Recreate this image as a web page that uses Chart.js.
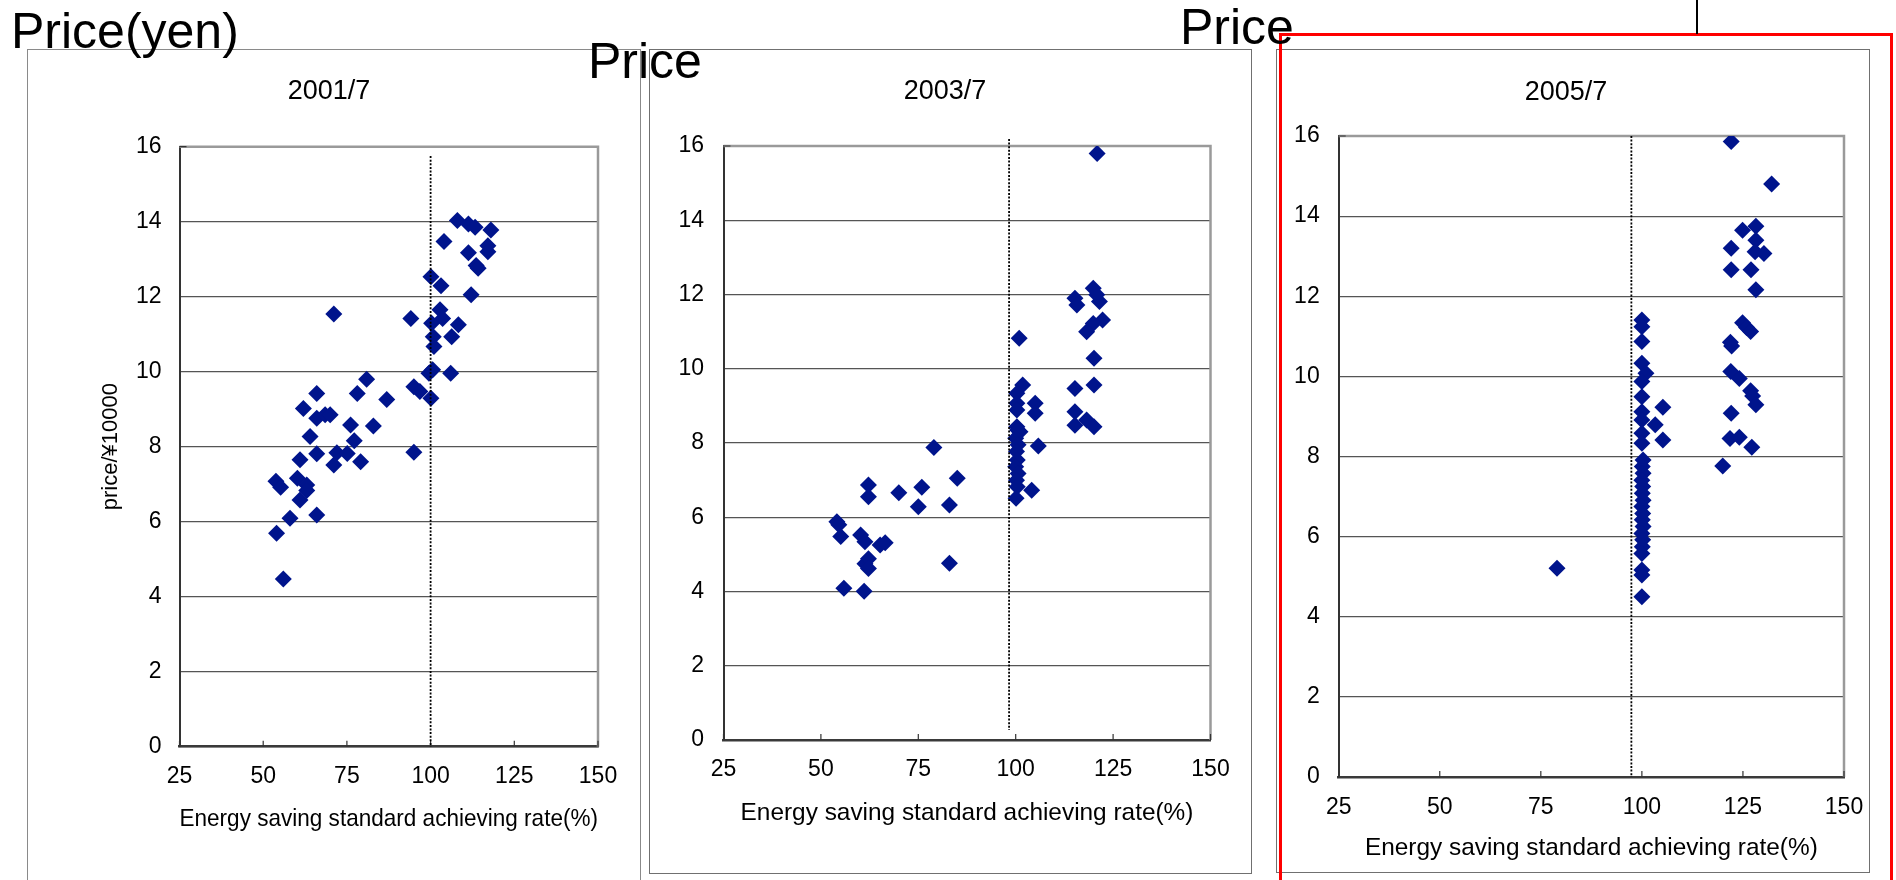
<!DOCTYPE html>
<html>
<head>
<meta charset="utf-8">
<title>Price vs energy saving standard achieving rate</title>
<script src="https://cdn.jsdelivr.net/npm/chart.js@4.4.1/dist/chart.umd.min.js"></script>
<style>
  body { margin: 0; width: 1896px; height: 880px; overflow: hidden; background: #fff; position: relative;
         font-family: "Liberation Sans", Arial, sans-serif; }
  canvas { position: absolute; }
  .box { position: absolute; border: 1.5px solid #8a8a8a; box-sizing: border-box; }
  .big { position: absolute; font-size: 50px; line-height: 50px; color: #000; white-space: nowrap; }
</style>
</head>
<body>
<div class="box" style="left:27px;top:49px;width:614px;height:900px;"></div>
<div class="box" style="left:649px;top:49px;width:603px;height:825px;border-color:#707070;"></div>
<div class="box" style="left:1276px;top:49px;width:594px;height:824px;border-color:#707070;"></div>
<div style="position:absolute;left:1279px;top:33px;width:614px;height:900px;border:3px solid #f00;box-sizing:border-box;"></div>
<div style="position:absolute;left:1696px;top:0;width:1.5px;height:34px;background:#000;"></div>

<canvas id="c2001" width="613" height="831" style="left:27px;top:49px;"></canvas>
<canvas id="c2003" width="602" height="824" style="left:649px;top:49px;"></canvas>
<canvas id="c2005" width="620" height="823" style="left:1276px;top:49px;"></canvas>

<div class="big" style="left:11px;top:6px;">Price(yen)</div>
<div class="big" style="left:588px;top:36px;">Price</div>
<div class="big" style="left:1180px;top:2px;">Price</div>

<script>
// 2001/7
var rate2001 = [108.0, 111.3, 113.3, 118.0, 104.0, 117.1, 117.1, 111.3, 113.6, 114.2,
                100.1, 103.1, 112.1, 71.1, 94.1, 102.8, 103.6, 100.3, 108.3, 106.3,
                100.8, 101.0, 100.6, 106.0, 99.5, 80.9, 66.0, 78.1, 95.0, 96.8,
                100.1, 86.9, 62.0, 66.0, 68.5, 70.0, 76.1, 82.9, 64.0, 77.2,
                66.0, 72.0, 75.1, 95.0, 61.0, 79.1, 71.1, 53.8, 55.2, 60.2,
                63.0, 63.0, 61.0, 66.0, 58.0, 54.0, 56.0];
var price2001 = [14.03, 13.94, 13.85, 13.78, 13.47, 13.36, 13.20, 13.17, 12.83, 12.76,
                 12.53, 12.29, 12.05, 11.54, 11.42, 11.65, 11.42, 11.29, 11.25, 10.93,
                 10.93, 10.67, 10.05, 9.96, 9.96, 9.80, 9.42, 9.42, 9.60, 9.47,
                 9.29, 9.26, 9.02, 8.76, 8.85, 8.85, 8.58, 8.55, 8.27, 8.16,
                 7.81, 7.84, 7.82, 7.85, 7.65, 7.60, 7.51, 7.08, 6.92, 7.16,
                 6.98, 6.83, 6.58, 6.18, 6.09, 5.69, 4.47];

// 2003/7
var rate2003 = [120.9, 119.9, 115.2, 115.7, 121.5, 120.8, 122.3, 119.9, 118.2, 100.9,
                120.1, 101.8, 100.3, 115.2, 120.1, 100.3, 105.0, 105.0, 100.3, 115.2,
                118.2, 115.2, 120.1, 100.3, 101.1, 105.8, 79.0, 100.5, 100.0, 100.6,
                100.2, 100.4, 100.0, 100.6, 100.2, 100.4, 100.1, 104.1, 85.0, 62.2,
                62.2, 70.0, 75.9, 75.0, 83.0, 54.1, 54.6, 55.1, 60.2, 61.3,
                65.2, 66.5, 61.3, 62.2, 62.2, 83.0, 55.9, 61.1];
var price2003 = [15.80, 12.17, 11.90, 11.72, 11.81, 11.99, 11.31, 11.22, 11.00, 10.82,
                 10.28, 9.56, 9.34, 9.47, 9.56, 9.07, 9.07, 8.80, 8.89, 8.84,
                 8.62, 8.48, 8.44, 8.44, 8.30, 7.92, 7.88, 8.35, 8.13, 7.95,
                 7.77, 7.54, 7.36, 7.18, 7.00, 6.82, 6.51, 6.73, 7.05, 6.87,
                 6.55, 6.66, 6.81, 6.28, 6.33, 5.88, 5.80, 5.48, 5.52, 5.34,
                 5.25, 5.31, 4.75, 4.88, 4.62, 4.76, 4.09, 4.01];

// 2005/7
var rate2005 = [122.1, 132.1, 128.2, 124.9, 128.2, 128.0, 130.2, 122.1, 122.1, 127.0,
                128.2, 124.9, 125.9, 126.9, 122.2, 121.9, 100.0, 100.0, 100.0, 100.0,
                122.0, 124.1, 126.9, 127.4, 128.2, 122.1, 121.8, 124.1, 127.2, 120.0,
                105.2, 103.3, 105.2, 79.0, 101.0, 100.0, 100.0, 100.0, 100.0, 100.0,
                100.0, 100.3, 100.1, 100.3, 100.0, 100.2, 100.1, 100.3, 100.0, 100.2,
                100.1, 100.3, 100.0, 100.2, 100.1, 100.0, 100.0, 100.0, 100.0];
var price2005 = [15.86, 14.80, 13.75, 13.65, 13.40, 13.11, 13.07, 13.20, 12.66, 12.66,
                 12.16, 11.34, 11.22, 11.12, 10.76, 10.85, 11.41, 11.24, 10.87, 10.33,
                 10.12, 9.95, 9.64, 9.51, 9.29, 9.08, 8.45, 8.48, 8.23, 7.76,
                 9.23, 8.79, 8.41, 5.21, 10.08, 9.87, 9.49, 9.12, 8.91, 8.58,
                 8.33, 7.91, 7.75, 7.58, 7.41, 7.25, 7.08, 6.91, 6.75, 6.58,
                 6.42, 6.25, 6.08, 5.92, 5.75, 5.58, 5.17, 5.04, 4.50];

// dotted "standard" line in each panel: [x, yTop, yBottom]
var standard2001 = [100, 15.75, 0];
var standard2003 = [98.3, 16.19, 0.27];
var standard2005 = [97.4, 16, 0];

var xTicks = [25, 50, 75, 100, 125, 150];
var yTicks = [0, 2, 4, 6, 8, 10, 12, 14, 16];
var xLabel = 'Energy saving standard achieving rate(%)';
var yLabel = 'price/\u00a510000';

Chart.defaults.font.family = '"Liberation Sans", Arial, sans-serif';
Chart.defaults.color = '#000';

// grey top/right edge of the plot and Excel-style inside tick marks
var frame = {
    id: 'frame',
    beforeDatasetsDraw: function(chart) {
        var ctx = chart.ctx, a = chart.chartArea, x = chart.scales.x;
        ctx.save();
        ctx.strokeStyle = '#9a9a9a';
        ctx.lineWidth = 2.5;
        ctx.beginPath();
        ctx.moveTo(a.left, a.top);
        ctx.lineTo(a.right, a.top);
        ctx.lineTo(a.right, a.bottom);
        ctx.stroke();
        ctx.strokeStyle = '#333';
        ctx.lineWidth = 1.2;
        ctx.beginPath();
        x.ticks.forEach(function(t) {
            var px = x.getPixelForValue(t.value);
            ctx.moveTo(px, a.bottom);
            ctx.lineTo(px, a.bottom - 6);
        });
        ctx.moveTo(a.left, a.top);
        ctx.lineTo(a.left + 7, a.top);
        ctx.stroke();
        ctx.restore();
    }
};

function makePanel(id, title, rates, prices, standard, c) {
    var points = rates.map(function(r, i) { return {x: r, y: prices[i]}; });
    return new Chart(document.getElementById(id), {
        type: 'scatter',
        data: {
            datasets: [
                {
                    type: 'line',
                    data: [{x: standard[0], y: standard[1]}, {x: standard[0], y: standard[2]}],
                    borderColor: '#000',
                    borderWidth: 1.8,
                    borderDash: [2, 1.6],
                    pointRadius: 0,
                    clip: false
                },
                {
                    data: points,
                    pointStyle: 'rectRot',
                    pointRadius: 8.5,
                    pointBorderWidth: 0,
                    backgroundColor: '#00148c',
                    borderColor: '#00148c'
                }
            ]
        },
        options: {
            responsive: false,
            animation: false,
            events: [],
            layout: { padding: { left: c.padL, right: c.padR, top: 0, bottom: c.padB } },
            plugins: {
                legend: { display: false },
                tooltip: { enabled: false },
                title: {
                    display: true,
                    text: title,
                    color: '#000',
                    font: { size: 27, weight: 'normal' },
                    padding: { top: c.t1, bottom: c.t2 }
                }
            },
            scales: {
                x: {
                    type: 'linear',
                    min: xTicks[0],
                    max: xTicks[xTicks.length - 1],
                    afterBuildTicks: function(s) { s.ticks = xTicks.map(function(v) { return {value: v}; }); },
                    ticks: { padding: c.xTickPad, font: { size: 23 }, maxRotation: 0 },
                    grid: { display: false, drawTicks: false },
                    border: { color: '#3a3a3a', width: 2.5 },
                    title: { display: true, text: xLabel, font: { size: 24.4 },
                             padding: { top: 0, bottom: c.xTitlePadB } },
                    afterFit: function(s) { s.height = c.hX; }
                },
                y: {
                    min: yTicks[0],
                    max: yTicks[yTicks.length - 1],
                    afterBuildTicks: function(s) { s.ticks = yTicks.map(function(v) { return {value: v}; }); },
                    ticks: { padding: c.yTickPad, font: { size: 23 } },
                    grid: { color: '#555', lineWidth: 1.2, drawTicks: false },
                    border: { color: '#333', width: 2 },
                    title: { display: !!c.yTitle, text: yLabel, font: { size: 22 },
                             padding: { top: c.yTitlePad || 0, bottom: 0 } },
                    afterFit: function(s) { s.width = c.wY; }
                }
            }
        },
        plugins: [frame]
    });
}

makePanel('c2001', '2001/7', rate2001, price2001, standard2001,
    { t1: 26.8, t2: 38.5, padL: 33, padR: 42, padB: 33.3, wY: 119.5, hX: 100,
      yTitle: true, yTitlePad: 37.8, yTickPad: 18, xTickPad: 16.2, xTitlePadB: 13 });
makePanel('c2003', '2003/7', rate2003, price2003, standard2003,
    { t1: 26.8, t2: 37.8, padL: 30.5, padR: 40.5, padB: 33, wY: 44, hX: 100,
      yTickPad: 19.5, xTickPad: 16.2, xTitlePadB: 12 });
makePanel('c2005', '2005/7', rate2005, price2005, standard2005,
    { t1: 27.3, t2: 27.3, padL: 12, padR: 52, padB: 5, wY: 50.7, hX: 90,
      yTickPad: 19, xTickPad: 16.9, xTitlePadB: 3.6 });
</script>
</body>
</html>
